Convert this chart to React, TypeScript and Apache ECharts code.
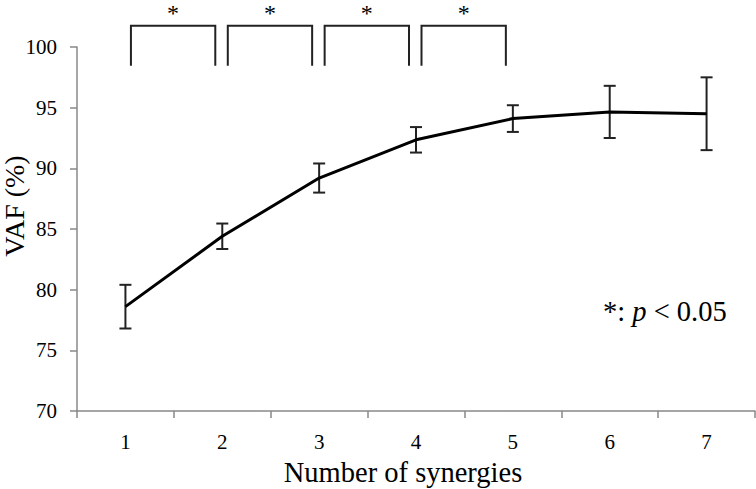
import React, { useEffect, useRef } from "react";
import * as echarts from "echarts";

const categories = ["1", "2", "3", "4", "5", "6", "7"];
const vafMean = [78.6, 84.4, 89.2, 92.35, 94.1, 94.65, 94.5];
const vafSd = [1.8, 1.05, 1.2, 1.05, 1.1, 2.15, 3.0];
const significantPairs = [
  [0, 1],
  [1, 2],
  [2, 3],
  [3, 4],
];
const yMin = 70;
const yMax = 100;
const yInterval = 5;
const bracketTop = 101.75;
const bracketBottom = 98.45;

const FONT = "Liberation Serif";

export default function App() {
  const ref = useRef<HTMLDivElement>(null);
  useEffect(() => {
    document.body.style.margin = "0";
    if (!ref.current) return;
    const chart = echarts.init(ref.current, null, { renderer: "svg" });
    chart.setOption({
      animation: false,
      backgroundColor: "#fff",
      grid: { left: 77, right: 1, top: 47, bottom: 78, containLabel: false, outerBoundsMode: "none" },
      xAxis: {
        type: "category",
        data: categories,
        boundaryGap: true,
        name: "Number of synergies",
        nameLocation: "middle",
        nameGap: 47,
        nameMoveOverlap: false,
        nameTextStyle: { fontFamily: FONT, fontSize: 28.5, color: "#000", padding: [0, 26, 0, 0] },
        axisLine: { lineStyle: { color: "#888", width: 1.5 } },
        axisTick: { show: true, length: 7, inside: false, lineStyle: { color: "#888", width: 1.5 } },
        axisLabel: { fontFamily: FONT, fontSize: 21, color: "#000", margin: 20 },
        splitLine: { show: false },
      },
      yAxis: {
        type: "value",
        min: yMin,
        max: yMax,
        interval: yInterval,
        name: "VAF (%)",
        nameLocation: "middle",
        nameGap: 49,
        nameRotate: 90,
        nameMoveOverlap: false,
        nameTextStyle: { fontFamily: FONT, fontSize: 28, color: "#000", padding: [0, 0, 0, 46] },
        axisLine: { show: true, lineStyle: { color: "#888", width: 1.5 } },
        axisTick: { show: true, length: 7, inside: false, lineStyle: { color: "#888", width: 1.5 } },
        axisLabel: { fontFamily: FONT, fontSize: 21, color: "#000", margin: 20 },
        splitLine: { show: false },
      },
      series: [
        {
          type: "line",
          data: vafMean,
          symbol: "none",
          lineStyle: { color: "#000", width: 3 },
          z: 3,
        },
        {
          type: "custom",
          data: vafMean.map((m, i) => [i, m - vafSd[i], m + vafSd[i]]),
          renderItem: (params: any, api: any) => {
            const i = api.value(0);
            const lo = api.coord([i, api.value(1)]);
            const hi = api.coord([i, api.value(2)]);
            const hw = 6;
            const st = { stroke: "#222", lineWidth: 2 };
            return {
              type: "group",
              children: [
                { type: "line", shape: { x1: lo[0], y1: lo[1], x2: hi[0], y2: hi[1] }, style: st },
                { type: "line", shape: { x1: lo[0] - hw, y1: lo[1], x2: lo[0] + hw, y2: lo[1] }, style: st },
                { type: "line", shape: { x1: hi[0] - hw, y1: hi[1], x2: hi[0] + hw, y2: hi[1] }, style: st },
              ],
            };
          },
          z: 2,
        },
        {
          type: "custom",
          clip: false,
          data: significantPairs.map(([a, b]) => [a, b]),
          renderItem: (params: any, api: any) => {
            const a = api.value(0);
            const b = api.value(1);
            const p1 = api.coord([a, bracketTop]);
            const p2 = api.coord([b, bracketTop]);
            const pb = api.coord([a, bracketBottom]);
            const x1 = p1[0] + 5.5;
            const x2 = p2[0] - 7;
            const yt = p1[1];
            const yb = pb[1];
            return {
              type: "group",
              children: [
                {
                  type: "polyline",
                  shape: { points: [[x1, yb], [x1, yt], [x2, yt], [x2, yb]] },
                  style: { stroke: "#222", lineWidth: 2, fill: "none" },
                },
                {
                  type: "text",
                  x: (x1 + x2) / 2,
                  y: yt - 24.5,
                  style: {
                    text: "*",
                    fontFamily: FONT,
                    fontSize: 24,
                    lineHeight: 24,
                    fill: "#000",
                    align: "center",
                    verticalAlign: "top",
                  },
                },
              ],
            };
          },
          z: 4,
        },
      ],
      graphic: [
        {
          type: "text",
          left: 603,
          top: 297,
          style: {
            text: "{a|*: }{i|p}{a| < 0.05}",
            rich: {
              a: { fontFamily: FONT, fontSize: 28.5, fill: "#000" },
              i: { fontFamily: FONT, fontSize: 28.5, fontStyle: "italic", fill: "#000" },
            },
          },
        },
      ],
    });
    return () => chart.dispose();
  }, []);
  return <div ref={ref} style={{ width: 756, height: 489 }} />;
}
